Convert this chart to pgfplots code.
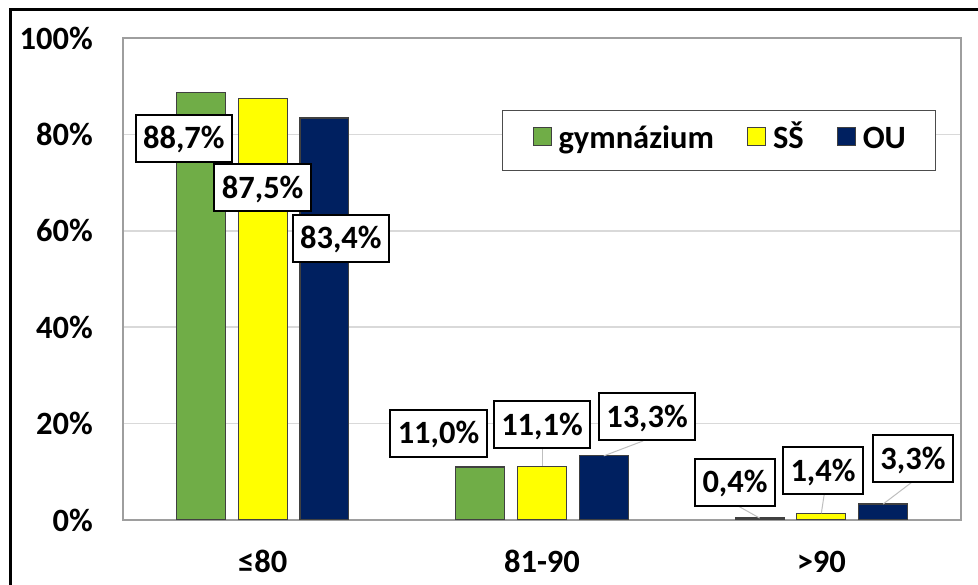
\documentclass[border=0pt]{standalone}
\usepackage{pgfplots}
\pgfplotsset{compat=1.18}
\usepackage{fontspec}
\setmainfont{Carlito}
\definecolor{cgreen}{HTML}{70AD47}
\definecolor{cyellow}{HTML}{FFFF00}
\definecolor{cnavy}{HTML}{002060}
\newcommand{\bigf}{\fontsize{32.5}{37}\selectfont\bfseries}
\begin{document}
\begin{tikzpicture}[x=1pt,y=1pt,
  lbl/.style={draw=black, line width=2pt, fill=white, font=\bigf,
    inner xsep=7.5pt, inner ysep=0pt, text height=21pt, text depth=0pt,
    minimum height=47pt},
  ldr/.style={draw=black!25, line width=1pt}]
\useasboundingbox (0,0) rectangle (978,585);
\fill[white] (0,0) rectangle (978,585);
\begin{axis}[
  at={(123pt,65pt)}, anchor=south west,
  scale only axis, width=838pt, height=482pt,
  ymin=0, ymax=100, xmin=-0.5, xmax=2.5,
  ytick={0,20,40,60,80,100},
  yticklabels={0\%,20\%,40\%,60\%,80\%,100\%},
  xtick={0,1,2}, xticklabels={≤80,81-90,>90},
  major tick length=0pt,
  ymajorgrids, grid style={color=black!15, line width=1.5pt},
  axis line style={color=black!38, line width=1.5pt},
  tick label style={font=\bigf},
  yticklabel style={anchor=east, inner sep=0pt, xshift=-30pt},
  xticklabel style={anchor=base, inner sep=0pt, yshift=-53pt},
  ybar, bar width=0.175,
  legend columns=3,
  legend style={
    at={(0.4523,0.8506)}, anchor=north west,
    draw=black!70, line width=1pt, fill=white,
    inner xsep=30pt, inner ysep=15pt,
    font=\bigf,
    nodes={inner sep=0pt, text height=23pt, text depth=7pt},
    /tikz/every odd column/.append style={column sep=7pt},
    /tikz/every even column/.append style={column sep=33pt},
  },
]
\addplot[fill=cgreen, draw=black!75, line width=1.2pt, bar shift=-0.221,
  legend image code/.code={\draw[fill=cgreen, draw=black!75, line width=1pt] (0pt,-5pt) rectangle (18pt,13pt);}]
  coordinates {(0,88.7) (1,11.0) (2,0.4)};
\addplot[fill=cyellow, draw=black!75, line width=1.2pt, bar shift=0,
  legend image code/.code={\draw[fill=cyellow, draw=black!75, line width=1pt] (0pt,-5pt) rectangle (18pt,13pt);}]
  coordinates {(0,87.5) (1,11.1) (2,1.4)};
\addplot[fill=cnavy, draw=black!75, line width=1.2pt, bar shift=0.221,
  legend image code/.code={\draw[fill=cnavy, draw=black!75, line width=1pt] (0pt,-5pt) rectangle (18pt,13pt);}]
  coordinates {(0,83.4) (1,13.3) (2,3.3)};
\legend{gymnázium,SŠ,OU}
% data labels
\draw[ldr] (axis cs:1.0,15.1) -- (axis cs:1.0,11.1);
\draw[ldr] (axis cs:1.362,16.4) -- (axis cs:1.221,13.3);
\draw[ldr] (axis cs:1.702,2.9) -- (axis cs:1.779,0.4);
\draw[ldr] (axis cs:2.010,5.2) -- (axis cs:2.0,1.4);
\draw[ldr] (axis cs:2.321,7.7) -- (axis cs:2.221,3.3);
\node[lbl] at (axis cs:-0.282,79.25) {88,7\%};
\node[lbl] at (axis cs:0.0,68.9) {87,5\%};
\node[lbl] at (axis cs:0.280,58.5) {83,4\%};
\node[lbl] at (axis cs:0.6295,17.95) {11,0\%};
\node[lbl] at (axis cs:1.0,19.81) {11,1\%};
\node[lbl] at (axis cs:1.376,21.37) {13,3\%};
\node[lbl] at (axis cs:1.691,7.88) {0,4\%};
\node[lbl] at (axis cs:2.006,10.17) {1,4\%};
\node[lbl] at (axis cs:2.328,12.66) {3,3\%};
\end{axis}
\draw[black, line width=3pt] (10,-10) -- (10,575) -- (990,575);
\end{tikzpicture}
\end{document}
